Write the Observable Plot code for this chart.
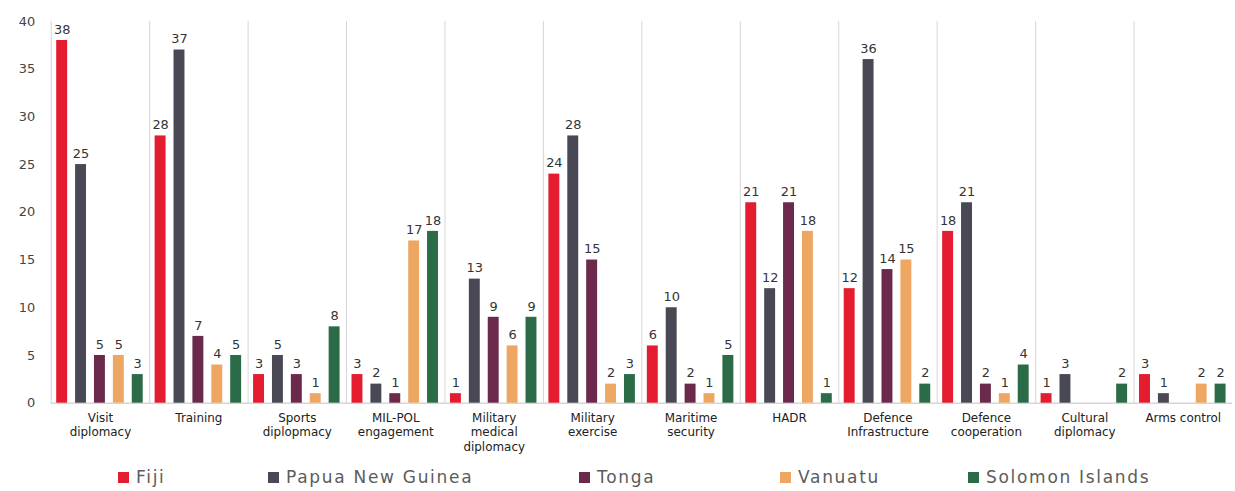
<!DOCTYPE html>
<html>
<head>
<meta charset="utf-8">
<script src="https://cdn.jsdelivr.net/npm/d3@7"></script>
<script src="https://cdn.jsdelivr.net/npm/@observablehq/plot@0.6"></script>
<style>
  html, body { margin: 0; padding: 0; background: #fff; }
  #wrap { position: relative; width: 1235px; height: 491px; overflow: hidden; }
  #chart { position: absolute; left: 0; top: 0; }
  .leg { position: absolute; top: 467px; font-family: "DejaVu Sans", sans-serif; font-size: 17px; color: #5c5c5c; letter-spacing: 1.7px; white-space: nowrap; line-height: 21px; }
  .leg span.sw { display: inline-block; width: 11px; height: 11px; margin-right: 7px; vertical-align: 0px; }
</style>
</head>
<body>
<div id="wrap">
  <div id="chart"></div>
  <div id="legend"></div>
</div>
<script>
const categories = ["Visit diplomacy", "Training", "Sports diplopmacy", "MIL-POL engagement", "Military medical diplomacy", "Military exercise", "Maritime security", "HADR", "Defence Infrastructure", "Defence cooperation", "Cultural diplomacy", "Arms control"];
const categoryLabels = ["Visit\ndiplomacy", "Training", "Sports\ndiplopmacy", "MIL-POL\nengagement", "Military\nmedical\ndiplomacy", "Military\nexercise", "Maritime\nsecurity", "HADR", "Defence\nInfrastructure", "Defence\ncooperation", "Cultural\ndiplomacy", "Arms control"];
const countries = ["Fiji", "Papua New Guinea", "Tonga", "Vanuatu", "Solomon Islands"];
const colors = ["#E31D2F", "#484955", "#6B2A4B", "#EDA763", "#2C6B47"];

const fiji     = [38, 28, 3, 3, 1, 24, 6, 21, 12, 18, 1, 3];
const png      = [25, 37, 5, 2, 13, 28, 10, 12, 36, 21, 3, 1];
const tonga    = [5, 7, 3, 1, 9, 15, 2, 21, 14, 2, null, null];
const vanuatu  = [5, 4, 1, 17, 6, 2, 1, 18, 15, 1, null, 2];
const solomon  = [3, 5, 8, 18, 9, 3, 5, 1, 2, 4, 2, 2];
const yTicks = [0, 5, 10, 15, 20, 25, 30, 35, 40];

const series = [fiji, png, tonga, vanuatu, solomon];
const rows = [];
categories.forEach((c, i) => {
  countries.forEach((k, j) => {
    const v = series[j][i];
    if (v != null) rows.push({category: c, country: k, value: v});
  });
});

const chart = Plot.plot({
  width: 1242,
  height: 462,
  marginLeft: 47.5,
  marginRight: 0,
  marginTop: 21,
  marginBottom: 57,
  style: {fontFamily: "'DejaVu Sans', sans-serif", fontSize: "12px", color: "#333", background: "transparent"},
  fx: {domain: categories, padding: 0, axis: null, label: null},
  x: {domain: countries, paddingInner: 0.42, paddingOuter: 0.2, axis: null, label: null},
  y: {domain: [0, 40], axis: null, label: null},
  color: {domain: countries, range: colors},
  marks: [
    Plot.frame({anchor: "left", stroke: "#d6d6d6", strokeWidth: 1}),
    Plot.ruleY([0], {stroke: "#d6d6d6", strokeWidth: 1.5}),
    Plot.axisY({ticks: yTicks, tickSize: 0, tickPadding: 16, fontSize: 13, fill: "#444", label: null, tickFormat: d => d}),
    Plot.barY(rows, {fx: "category", x: "country", y: "value", fill: "country"}),
    Plot.text(rows, {fx: "category", x: "country", y: "value", text: d => String(d.value), dy: -11, fontSize: 13, fill: "#333"}),
    Plot.text(categories, {fx: d => d, text: (d, i) => categoryLabels[i], frameAnchor: "bottom", lineAnchor: "top", dy: 8, fontSize: 12, fill: "#222", lineHeight: 1.22})
  ]
});
document.getElementById("chart").appendChild(chart);

const legendX = [118, 268, 579, 780, 968];
const legend = document.getElementById("legend");
countries.forEach((k, j) => {
  const d = document.createElement("div");
  d.className = "leg";
  d.style.left = legendX[j] + "px";
  d.innerHTML = `<span class="sw" style="background:${colors[j]}"></span>${k}`;
  legend.appendChild(d);
});
</script>
</body>
</html>
